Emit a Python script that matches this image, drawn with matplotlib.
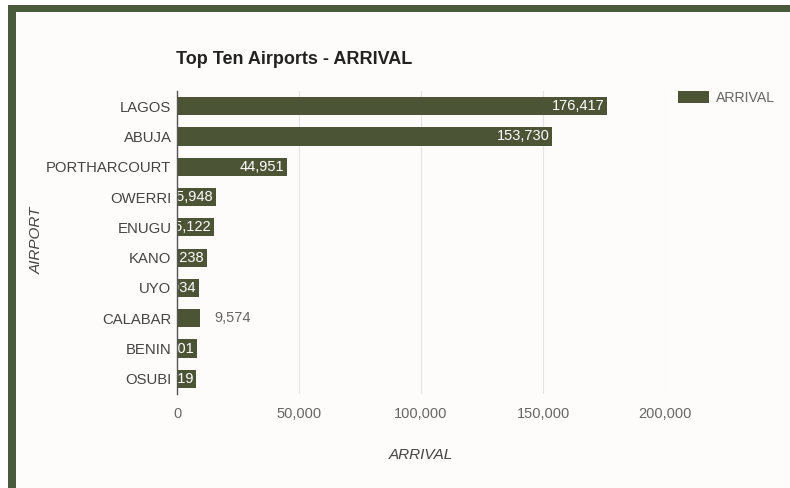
import matplotlib.pyplot as plt
from matplotlib.patches import Rectangle
from matplotlib.ticker import FuncFormatter

plt.rcParams['font.family'] = ['Liberation Sans', 'DejaVu Sans']

airports = ["LAGOS", "ABUJA", "PORTHARCOURT", "OWERRI", "ENUGU",
            "KANO", "UYO", "CALABAR", "BENIN", "OSUBI"]
arrivals = [176417, 153730, 44951, 15948, 15122,
            12238, 8934, 9574, 8001, 7819]
# labels that google charts pushed outside the bar
outside = ["CALABAR"]

bar_col = "#4b5536"
frame_col = "#4a5a3c"
txt_col = "#666666"

fig = plt.figure(figsize=(7.9, 4.88), dpi=100)
fig.patch.set_facecolor("white")

# dark green frame around the chart
W, H = 790, 488
fig.patches.append(Rectangle((8 / W, 0), 1 - 8 / W, 1 - 5 / H, transform=fig.transFigure,
                             facecolor=frame_col, edgecolor="none", zorder=-2))
fig.patches.append(Rectangle((16 / W, 0), 1 - 16 / W, 1 - 12 / H, transform=fig.transFigure,
                             facecolor="#fdfcfa", edgecolor="none", zorder=-1))

ax = fig.add_axes([177 / W, 1 - 394 / H, (665 - 177) / W, (394 - 91) / H])
ax.set_facecolor("none")

ypos = list(range(len(airports)))
bars = ax.barh(ypos, arrivals, height=0.6, color=bar_col, zorder=3, label="ARRIVAL")
ax.set_ylim(len(airports) - 0.5, -0.5)
ax.set_xlim(0, 200000)

for b, name, v in zip(bars, airports, arrivals):
    lbl = f"{v:,}"
    yc = b.get_y() + b.get_height() / 2
    if name in outside:
        ax.annotate(lbl, (v, yc), xytext=(10, 0), textcoords="offset points",
                    ha="left", va="center", fontsize=10.5, color=txt_col, zorder=4)
    else:
        t = ax.annotate(lbl, (v, yc), xytext=(-2, 0), textcoords="offset points",
                        ha="right", va="center", fontsize=10.5, color="white", zorder=4)
        t.set_clip_path(b)

ax.set_yticks(ypos)
ax.set_yticklabels(airports, fontsize=10.7, color="#444444")
ax.set_xticks([0, 50000, 100000, 150000, 200000])
ax.xaxis.set_major_formatter(FuncFormatter(lambda x, p: f"{int(x):,}"))
ax.tick_params(axis="x", colors=txt_col, labelsize=10.5, length=0, pad=9)
ax.tick_params(axis="y", length=0, pad=4)

ax.grid(axis="x", color="#e4e4e4", linewidth=0.8, zorder=0)
for s in ["top", "right", "bottom"]:
    ax.spines[s].set_visible(False)
ax.spines["left"].set_color("#555555")
ax.spines["left"].set_linewidth(1)
ax.spines["left"].set_zorder(5)

ax.set_xlabel("ARRIVAL", fontsize=11, style="italic", color="#444444", labelpad=20)
fig.text(37 / W, 1 - 240 / H, "AIRPORT", rotation=90, fontsize=11, style="italic",
         color="#444444", ha="center", va="center")

fig.text(176 / W, 1 - 60 / H, "Top Ten Airports - ARRIVAL", fontsize=13, fontweight="bold",
         color="#222222", ha="left", va="center")

leg = ax.legend(loc="upper left", bbox_to_anchor=(1.015, 1.02), frameon=False, fontsize=10.2,
                handlelength=2.2, handleheight=1.0, handletextpad=0.5, borderaxespad=0)
for t in leg.get_texts():
    t.set_color(txt_col)

fig.savefig("out.png", dpi=100)
